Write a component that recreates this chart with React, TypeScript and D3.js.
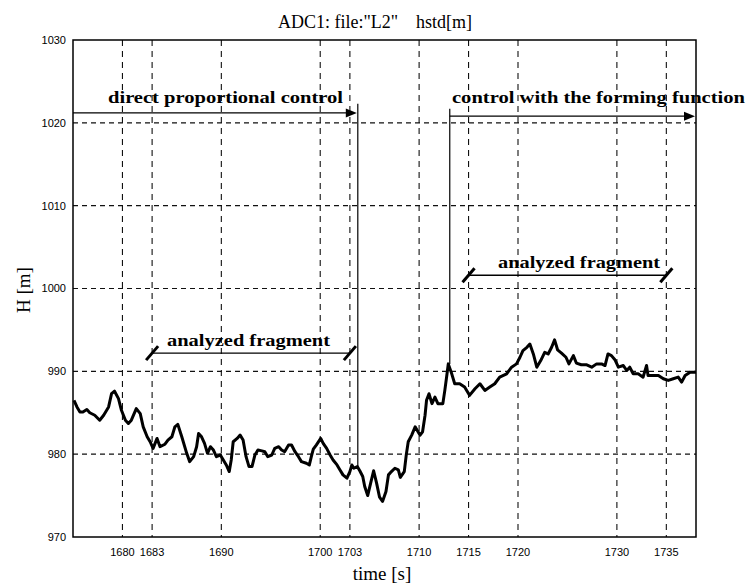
import React from "react";
import * as d3 from "d3";

const times = [
  1675.1, 1675.4, 1675.7, 1676.0, 1676.4, 1676.7, 1677.2, 1677.7, 1678.1, 1678.6,
  1678.9, 1679.2, 1679.6, 1679.9, 1680.3, 1680.6, 1680.9, 1681.4, 1681.8, 1682.1,
  1682.5, 1682.8, 1683.1, 1683.5, 1683.8, 1684.3, 1684.6, 1685.0, 1685.3, 1685.6,
  1686.0, 1686.5, 1686.8, 1687.2, 1687.5, 1687.7, 1688.0, 1688.3, 1688.6, 1688.9,
  1689.2, 1689.5, 1689.9, 1690.2, 1690.5, 1690.8, 1691.0, 1691.2, 1691.6, 1691.9,
  1692.2, 1692.5, 1692.8, 1693.1, 1693.4, 1693.7, 1694.1, 1694.4, 1694.7, 1695.1,
  1695.4, 1695.8, 1696.1, 1696.4, 1696.8, 1697.1, 1697.45, 1697.8, 1698.1, 1698.6,
  1698.9, 1699.1, 1699.3, 1699.6, 1700.05, 1700.3, 1700.65, 1701.0, 1701.3, 1701.7,
  1702.0, 1702.3, 1702.7, 1703.0, 1703.2, 1703.4, 1703.75, 1704.0, 1704.3, 1704.5,
  1704.8, 1705.1, 1705.4, 1705.7, 1706.0, 1706.3, 1706.65, 1706.9, 1707.2, 1707.55,
  1707.9, 1708.1, 1708.5, 1708.7, 1708.9, 1709.25, 1709.6, 1709.8, 1710.1, 1710.35,
  1710.6, 1710.75, 1711.0, 1711.3, 1711.6, 1711.9, 1712.4, 1712.6, 1712.8, 1712.95,
  1713.3, 1713.6, 1714.1, 1714.6, 1715.1, 1715.65, 1716.15, 1716.65, 1717.15, 1717.65,
  1718.15, 1718.85, 1719.35, 1719.85, 1720.2, 1720.5, 1720.9, 1721.2, 1721.55, 1721.9,
  1722.3, 1722.7, 1723.05, 1723.4, 1723.7, 1724.0, 1724.4, 1724.85, 1725.15, 1725.6,
  1725.9, 1726.4, 1726.9, 1727.45, 1727.95, 1728.45, 1728.8, 1729.1, 1729.45, 1729.8,
  1730.15, 1730.65, 1731.0, 1731.3, 1731.65, 1732.15, 1732.65, 1733.0, 1733.15, 1733.7,
  1734.2, 1734.7, 1735.2, 1735.7, 1736.2, 1736.55, 1736.9, 1737.4, 1738.0,
];
const heights = [
  986.5, 985.7, 985.1, 985.1, 985.4, 985.0, 984.7, 984.1, 984.7, 985.7,
  987.3, 987.6, 986.7, 985.3, 984.1, 983.7, 984.1, 985.5, 984.9, 983.3,
  982.1, 981.5, 980.7, 981.9, 980.9, 981.2, 981.7, 982.1, 983.3, 983.6,
  982.1, 980.1, 979.1, 979.7, 980.9, 982.5, 982.1, 981.3, 980.1, 980.9,
  980.5, 979.7, 979.9, 979.3, 978.7, 977.9, 979.3, 981.5, 981.9, 982.3,
  981.7, 979.7, 978.5, 978.5, 979.9, 980.5, 980.4, 980.3, 979.7, 979.9,
  980.7, 980.9, 980.5, 980.3, 981.1, 981.1, 980.3, 979.7, 979.1, 978.9,
  978.7, 979.7, 980.6, 981.1, 981.9, 981.3, 980.7, 979.9, 979.3, 978.7,
  978.1, 977.5, 977.1, 977.9, 978.7, 978.3, 978.5, 978.0, 977.3, 976.1,
  975.0, 976.5, 978.0, 976.5, 974.8, 974.3, 975.5, 977.5, 977.9, 978.3,
  978.1, 977.2, 977.9, 979.9, 981.5, 982.3, 983.3, 982.9, 982.3, 982.7,
  984.7, 986.5, 987.3, 986.1, 986.9, 986.1, 986.1, 987.7, 989.5, 990.9,
  989.7, 988.5, 988.5, 988.1, 987.1, 987.9, 988.5, 987.7, 988.1, 988.5,
  989.3, 989.7, 990.5, 990.9, 991.7, 992.5, 992.9, 993.3, 992.1, 990.5,
  991.3, 992.3, 992.1, 992.9, 993.8, 992.6, 992.2, 991.7, 990.9, 991.9,
  991.0, 990.8, 990.8, 990.5, 990.9, 990.9, 990.7, 992.1, 991.9, 991.4,
  990.5, 990.7, 990.1, 990.5, 989.7, 989.7, 989.3, 990.7, 989.5, 989.5,
  989.5, 989.1, 988.9, 989.1, 989.3, 988.7, 989.5, 989.9, 989.9,
];

const timeTicks = [1680, 1683, 1690, 1700, 1703, 1710, 1715, 1720, 1730, 1735];
const heightTicks = [970, 980, 990, 1000, 1010, 1020, 1030];
const timeDomain = [1675, 1738];

// control phases: label, start, end, arrow level, where the switch line drops to
const phaseLabels = ["direct proportional control", "control with the forming function"];
const phaseStart = [1675, 1713.1];
const phaseEnd = [1703.8, 1738];
const phaseLevel = [1021.2, 1020.8];
const switchTime = [1703.8, 1713.1];
const switchTop = [1022.3, 1021.7];
const switchBottom = [978.5, 990.9];

// analyzed fragments
const fragStart = [1683, 1715];
const fragEnd = [1703, 1735];
const fragLevel = [992.2, 1001.6];

export default function App() {
  const W = 749, H = 583;
  const m = { left: 73, right: 696, top: 40, bottom: 537 };

  const x = d3.scaleLinear().domain(timeDomain).range([m.left, m.right]);
  const y = d3.scaleLinear().domain([970, 1030]).range([m.bottom, m.top]);

  const pts: [number, number][] = times.map((t, i) => [t, heights[i]]);
  const path = d3.line<[number, number]>()
    .x(d => x(d[0]))
    .y(d => y(d[1]))(pts) || "";

  const serif = "'Liberation Serif', 'Times New Roman', serif";
  const sans = "'Liberation Sans', Arial, sans-serif";

  // label layout in px (start x, baseline, length)
  const phaseText = [
    { x: 108, y: 103, len: 235 },
    { x: 452, y: 103, len: 293 },
  ];
  const fragText = [
    { x: 167, dy: -7, len: 163 },
    { x: 498, dy: -7, len: 162 },
  ];

  const arrowHead = (xe: number, ye: number) =>
    `M${xe},${ye} L${xe - 11},${ye - 4.5} L${xe - 11},${ye + 4.5} Z`;

  return (
    <svg width={W} height={H} style={{ position: "absolute", left: 0, top: 0, background: "#fff" }}>
      <rect width={W} height={H} fill="#fff" />

      {/* grid */}
      {heightTicks.filter(v => v > 970 && v < 1030).map(v => (
        <line key={"h" + v} x1={m.left} x2={m.right} y1={y(v)} y2={y(v)}
          stroke="#111" strokeWidth={1.1} strokeDasharray="5,4" />
      ))}
      {timeTicks.map(t => (
        <line key={"v" + t} x1={x(t)} x2={x(t)} y1={m.top} y2={m.bottom}
          stroke="#111" strokeWidth={1.1} strokeDasharray="6,5" />
      ))}

      {/* frame */}
      <rect x={m.left} y={m.top} width={m.right - m.left} height={m.bottom - m.top}
        fill="none" stroke="#000" strokeWidth={1.5} />

      {/* tick labels */}
      {heightTicks.map(v => (
        <text key={"yl" + v} x={66} y={y(v)} dy="0.35em" textAnchor="end"
          fontFamily={sans} fontSize={11} fill="#000">{v}</text>
      ))}
      {timeTicks.map(t => (
        <text key={"xl" + t} x={x(t)} y={556} textAnchor="middle"
          fontFamily={sans} fontSize={11} fill="#000">{t}</text>
      ))}

      {/* titles */}
      <text x={375} y={28} textAnchor="middle" fontFamily={serif} fontSize={18}
        style={{ whiteSpace: "pre" }}>{'ADC1: file:"L2"    hstd[m]'}</text>
      <text x={382} y={580} textAnchor="middle" fontFamily={serif} fontSize={19}>time [s]</text>
      <text transform="translate(30,290) rotate(-90)" textAnchor="middle"
        fontFamily={serif} fontSize={19}>H [m]</text>

      {/* data */}
      <path d={path} fill="none" stroke="#000" strokeWidth={3} strokeLinejoin="round" />

      {/* phase arrows */}
      {phaseLabels.map((lab, i) => (
        <g key={"ph" + i}>
          <line x1={x(switchTime[i])} x2={x(switchTime[i])} y1={y(switchTop[i])} y2={y(switchBottom[i])}
            stroke="#000" strokeWidth={1.2} />
          <line x1={x(phaseStart[i])} x2={x(phaseEnd[i]) - 4} y1={y(phaseLevel[i])} y2={y(phaseLevel[i])}
            stroke="#000" strokeWidth={1.3} />
          <path d={arrowHead(x(phaseEnd[i]) - 1, y(phaseLevel[i]))} fill="#000" />
          <text x={phaseText[i].x} y={phaseText[i].y} fontFamily={serif} fontWeight="bold"
            fontSize={16} textLength={phaseText[i].len} lengthAdjust="spacingAndGlyphs">{lab}</text>
        </g>
      ))}

      {/* analyzed fragments */}
      {fragStart.map((t0, i) => {
        const yl = y(fragLevel[i]);
        return (
          <g key={"fr" + i}>
            <line x1={x(t0)} x2={x(fragEnd[i])} y1={yl} y2={yl} stroke="#000" strokeWidth={1.3} />
            {[t0, fragEnd[i]].map(t => (
              <line key={t} x1={x(t) - 6} y1={yl + 7} x2={x(t) + 6} y2={yl - 7}
                stroke="#000" strokeWidth={3} />
            ))}
            <text x={fragText[i].x} y={yl + fragText[i].dy} fontFamily={serif} fontWeight="bold"
              fontSize={16} textLength={fragText[i].len} lengthAdjust="spacingAndGlyphs">analyzed fragment</text>
          </g>
        );
      })}
    </svg>
  );
}
